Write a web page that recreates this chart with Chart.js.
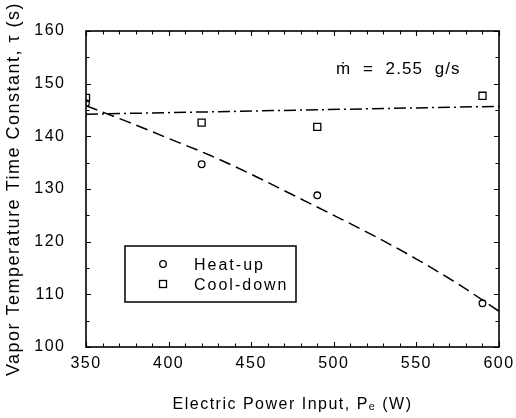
<!DOCTYPE html>
<html><head><meta charset="utf-8">
<script src="https://cdn.jsdelivr.net/npm/chart.js@4/dist/chart.umd.min.js"></script>
<style>html,body{margin:0;padding:0;background:#fff}#c{display:block}</style>
</head><body>
<canvas id="c" width="516" height="418"></canvas>
<script>
// ---- data ----
const powerInput   = [350, 420, 490, 590];
const heatUpTau    = [146.3, 134.7, 128.8, 108.3];
const coolDownTau  = [147.3, 142.6, 141.8, 147.7];
const heatFitPower = [350, 375, 400, 425, 450, 475, 500, 525, 550, 575, 600];
const heatFitTau   = [145.8, 142.8, 139.6, 136.4, 132.8, 128.9, 125.0, 121.0, 116.7, 112.0, 106.8];
const coolFitPower = [350, 600];
const coolFitTau   = [144.2, 145.7];
const xTickValues  = [350, 400, 450, 500, 550, 600];
const yTickValues  = [100, 110, 120, 130, 140, 150, 160];
const seriesNames  = ['Heat-up', 'Cool-down'];
const noteText     = 'ṁ  =  2.55  g/s';
const xTitleText   = 'Electric Power Input, Pₑ (W)';
const yTitleText   = 'Vapor Temperature Time Constant, τ (s)';

const FONT = '"Liberation Sans", Arial, "DejaVu Sans", sans-serif';
const pts = (xs, ys) => xs.map((v, i) => ({x: v, y: ys[i]}));

const framePlugin = {
  id: 'frame',
  beforeDraw(chart) {
    const ctx = chart.ctx;
    ctx.save(); ctx.fillStyle = '#fff'; ctx.fillRect(0, 0, chart.width, chart.height); ctx.restore();
    ctx.letterSpacing = '1.5px';
  },
  afterDraw(chart) {
    const {ctx, chartArea: a, scales: {x, y}} = chart;
    ctx.save();
    ctx.strokeStyle = '#000';
    ctx.lineWidth = 1.6;
    ctx.strokeRect(a.left, a.top, a.right - a.left, a.bottom - a.top);
    ctx.lineWidth = 1.1;
    ctx.beginPath();
    for (let v = x.min; v <= x.max + 1e-6; v += 10) {
      const px = Math.round(x.getPixelForValue(v)) + 0.5;
      const len = (Math.round(v) % 50 === 0) ? 5 : 3.5;
      ctx.moveTo(px, a.bottom); ctx.lineTo(px, a.bottom - len);
      ctx.moveTo(px, a.top); ctx.lineTo(px, a.top + len);
    }
    for (let v = y.min; v <= y.max + 1e-6; v += 5) {
      const py = Math.round(y.getPixelForValue(v)) + 0.5;
      const len = (Math.round(v) % 10 === 0) ? 5 : 3.5;
      ctx.moveTo(a.left, py); ctx.lineTo(a.left + len, py);
      ctx.moveTo(a.right, py); ctx.lineTo(a.right - len, py);
    }
    ctx.stroke();

    // legend box
    ctx.lineWidth = 1.5;
    ctx.strokeRect(125, 246, 171, 56);
    ctx.fillStyle = '#000';
    ctx.font = '16px ' + FONT;
    ctx.letterSpacing = '2px';
    ctx.textBaseline = 'alphabetic';
    ctx.textAlign = 'left';
    const rows = [269.5, 290];
    const symY = [264, 284];
    ctx.lineWidth = 1.3;
    ctx.beginPath(); ctx.arc(163, symY[0], 3.3, 0, Math.PI * 2); ctx.stroke();
    ctx.strokeRect(159.5, symY[1] - 3.5, 7, 7);
    ctx.fillText(seriesNames[0], 194, rows[0]);
    ctx.fillText(seriesNames[1], 194, rows[1]);

    // note
    ctx.letterSpacing = '1.1px';
    ctx.font = '17px ' + FONT;
    ctx.fillText(noteText, 336, 74);
    ctx.restore();
  }
};

new Chart(document.getElementById('c'), {
  type: 'scatter',
  data: {
    datasets: [
      { label: seriesNames[0], data: pts(powerInput, heatUpTau), pointStyle: 'circle',
        pointRadius: 3.3, borderColor: '#000', backgroundColor: 'rgba(0,0,0,0)', pointBorderWidth: 1.3, clip: 0 },
      { label: seriesNames[1], data: pts(powerInput, coolDownTau), pointStyle: 'rect',
        pointRadius: 5, borderColor: '#000', backgroundColor: 'rgba(0,0,0,0)', pointBorderWidth: 1.3, clip: 0 },
      { label: 'heat fit', data: pts(heatFitPower, heatFitTau), showLine: true, pointRadius: 0,
        borderColor: '#000', borderWidth: 1.5, borderDash: [12, 6], tension: 0.4, cubicInterpolationMode: 'monotone', clip: 0 },
      { label: 'cool fit', data: pts(coolFitPower, coolFitTau), showLine: true, pointRadius: 0,
        borderColor: '#000', borderWidth: 1.5, borderDash: [12, 4, 2, 4], clip: 0 }
    ]
  },
  options: {
    responsive: false,
    animation: false,
    devicePixelRatio: 1,
    layout: { padding: { top: 31, right: 17, left: 0, bottom: 0 } },
    plugins: { legend: { display: false }, tooltip: { enabled: false } },
    scales: {
      x: {
        type: 'linear', min: 350, max: 600,
        afterBuildTicks: s => { s.ticks = xTickValues.map(v => ({value: v})); },
        afterFit: s => { s.height = 71; },
        grid: { display: false }, border: { display: false },
        ticks: { color: '#000', padding: -1, font: { family: FONT, size: 16 }, maxRotation: 0 },
        title: { display: true, text: xTitleText, color: '#000', font: { family: FONT, size: 16 }, padding: { top: 0, bottom: 4 } }
      },
      y: {
        type: 'linear', min: 100, max: 160,
        afterBuildTicks: s => { s.ticks = yTickValues.map(v => ({value: v})); },
        afterFit: s => { s.width = 86; },
        grid: { display: false }, border: { display: false },
        ticks: { color: '#000', padding: 12.5, font: { family: FONT, size: 16 } },
        title: { display: true, text: yTitleText, color: '#000', font: { family: FONT, size: 18 }, padding: { top: 3, bottom: 0 } }
      }
    }
  },
  plugins: [framePlugin]
});
</script>
</body></html>
